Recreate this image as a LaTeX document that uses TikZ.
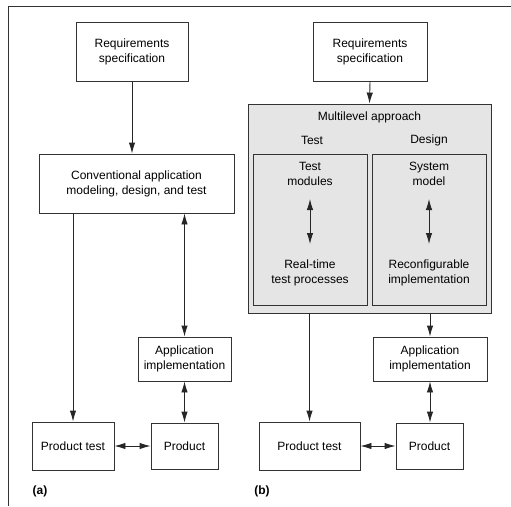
\documentclass[tikz,border=0pt]{standalone}
\usepackage{fontspec}
\setmainfont{Liberation Sans}
\usetikzlibrary{arrows.meta}
\begin{document}
\begin{tikzpicture}[x=1pt,y=-1pt,
  box/.style={draw=black!80,line width=0.9pt,rectangle,inner sep=0pt,align=center,font=\fontsize{12}{15}\selectfont},
  lbl/.style={inner sep=0pt,align=center,font=\fontsize{12}{15}\selectfont},
  conn/.style={draw=black!85,line width=0.9pt,-{Latex[length=11pt,width=6.5pt]}},
  dconn/.style={draw=black!85,line width=0.9pt,{Latex[length=11pt,width=6.5pt]}-{Latex[length=11pt,width=6.5pt]}}]
\useasboundingbox (0,0) rectangle (511,506);
\draw[black!80,line width=1pt] (8,506) -- (8,6) -- (511,6);
% (a)
\node[box,minimum width=112pt,minimum height=59pt] (reqL) at (132,51.5) {Requirements\\specification};
\node[box,minimum width=195pt,minimum height=59pt] (conv) at (136.5,183.5) {Conventional application\\modeling, design, and test};
\node[box,minimum width=93pt,minimum height=44pt] (appL) at (184.5,359) {Application\\implementation};
\node[box,minimum width=82pt,minimum height=48pt] (ptL) at (73,446) {Product test};
\node[box,minimum width=67pt,minimum height=46pt] (prodL) at (184.5,446) {Product};
\node[lbl,font=\fontsize{12}{15}\selectfont\bfseries] (la) at (40,491) {(a)};
\draw[conn] (reqL.south) -- (reqL.south |- conv.north);
\draw[conn] (conv.south -| ptL.north) -- (ptL.north);
\draw[dconn] (appL.north |- conv.south) -- (appL.north);
\draw[dconn] (appL.south) -- (appL.south |- prodL.north);
\draw[dconn] (ptL.east) -- (prodL.west);
% (b)
\node[box,minimum width=114pt,minimum height=59pt] (reqR) at (370,51.5) {Requirements\\specification};
\node[box,fill=black!10,minimum width=243pt,minimum height=209pt] (multi) at (369.5,208.5) {};
\node[lbl] (mtitle) at (369.5,117) {Multilevel approach};
\node[lbl] (ttitle) at (312,140) {Test};
\node[lbl] (dtitle) at (429,140) {Design};
\node[box,fill=black!10,minimum width=114pt,minimum height=151pt] (tbox) at (310,229.5) {};
\node[box,fill=black!10,minimum width=114pt,minimum height=151pt] (dbox) at (429,229.5) {};
\node[lbl] (tmod) at (310,174) {Test\\modules};
\node[lbl] (rtp) at (310,273) {Real-time\\test processes};
\node[lbl] (smod) at (429,174) {System\\model};
\node[lbl] (rimp) at (429,273) {Reconfigurable\\implementation};
\coordinate (t1) at (310,199);
\coordinate (t2) at (310,244);
\coordinate (s1) at (429,199);
\coordinate (s2) at (429,244);
\draw[dconn] (t1) -- (t2);
\draw[dconn] (s1) -- (s2);
\node[box,minimum width=114pt,minimum height=44pt] (appR) at (430,359) {Application\\implementation};
\node[box,minimum width=101pt,minimum height=48pt] (ptR) at (309.5,446) {Product test};
\node[box,minimum width=67pt,minimum height=46pt] (prodR) at (429.5,446) {Product};
\node[lbl,font=\fontsize{12}{15}\selectfont\bfseries] (lb) at (262,491) {(b)};
\draw[conn] (reqR.south) -- (multi.north);
\draw[conn] (multi.south -| ptR.north) -- (ptR.north);
\draw[conn] (multi.south -| appR.north) -- (appR.north);
\draw[dconn] (appR.south) -- (appR.south |- prodR.north);
\draw[dconn] (ptR.east) -- (prodR.west);
\end{tikzpicture}
\end{document}
